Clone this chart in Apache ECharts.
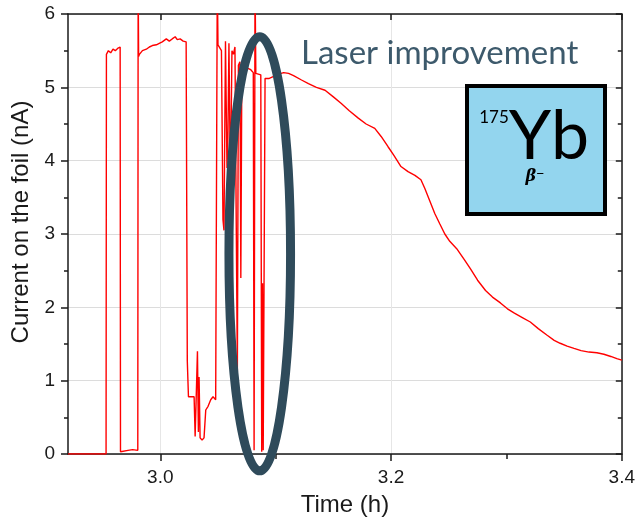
<!DOCTYPE html>
<html>
<head>
<meta charset="utf-8">
<script src="https://cdn.jsdelivr.net/npm/echarts@6/dist/echarts.min.js"></script>
<style>
  html,body{margin:0;padding:0;background:#fff;}
  #chart{width:638px;height:526px;}
</style>
</head>
<body>
<div id="chart"></div>
<script>
// === Datos ===
const timeH = [
  2.9200, 2.9530, 2.9533, 2.9550, 2.9570, 2.9590, 2.9610, 2.9630, 2.9652, 2.9655, 2.9670, 2.9720, 2.9760, 2.9805, 2.9808, 2.9812,
  2.9819, 2.9845, 2.9879, 2.9905, 2.9931, 2.9966, 2.9991, 3.0017, 3.0052, 3.0078, 3.0103, 3.0129, 3.0147, 3.0172, 3.0198, 3.0224, 3.0232,
  3.0234, 3.0244, 3.0293, 3.0302, 3.0315, 3.0322, 3.0330, 3.0336, 3.0345, 3.0362, 3.0379, 3.0394, 3.0414, 3.0437, 3.0457, 3.0480, 3.0491,
  3.0494, 3.0500, 3.0517, 3.0530, 3.0543, 3.0552, 3.0565, 3.0578, 3.0586, 3.0595, 3.0608, 3.0621, 3.0634, 3.0647, 3.0659, 3.0668, 3.0677,
  3.0690, 3.0698, 3.0707, 3.0733, 3.0759, 3.0784, 3.0806, 3.0813, 3.0821, 3.0828, 3.0845, 3.0871, 3.0879, 3.0886, 3.0892, 3.0908, 3.0922,
  3.0940, 3.0983, 3.1026, 3.1069, 3.1112, 3.1155, 3.1224, 3.1284, 3.1353, 3.1428, 3.1500, 3.1569, 3.1638, 3.1716, 3.1784, 3.1859, 3.1914,
  3.1974, 3.2026, 3.2086, 3.2147, 3.2207, 3.2259, 3.2293, 3.2336, 3.2379, 3.2422, 3.2466, 3.2509, 3.2569, 3.2635, 3.2690, 3.2750, 3.2819,
  3.2879, 3.2948, 3.3009, 3.3069, 3.3138, 3.3207, 3.3276, 3.3353, 3.3414, 3.3466, 3.3526, 3.3586, 3.3647, 3.3716, 3.3784, 3.3845, 3.3905,
  3.3957, 3.4000
];
const currentNA = [
  0.00, 0.00, 5.45, 5.50, 5.47, 5.52, 5.50, 5.53, 5.55, 0.03, 0.04, 0.05, 0.06, 0.05, 6.50, 5.42,
  5.45, 5.50, 5.52, 5.55, 5.57, 5.58, 5.60, 5.62, 5.66, 5.63, 5.66, 5.69, 5.65, 5.66, 5.63, 5.62, 5.60,
  1.27, 0.78, 0.78, 0.24, 0.25, 1.40, 0.30, 1.05, 0.22, 0.19, 0.22, 0.60, 0.65, 0.74, 0.78, 0.74, 0.75,
  6.50, 5.58, 5.60, 5.50, 3.20, 3.05, 5.63, 3.90, 4.30, 5.60, 3.60, 5.50, 5.45, 5.55, 3.00, 1.12, 5.30,
  5.35, 2.40, 5.30, 5.30, 5.26, 5.24, 5.20, 0.05, 6.50, 5.19, 5.18, 5.17, 0.03, 2.33, 0.05, 5.12, 5.12,
  5.12, 5.15, 5.18, 5.20, 5.19, 5.16, 5.10, 5.05, 5.00, 4.96, 4.87, 4.78, 4.68, 4.58, 4.50, 4.44, 4.33,
  4.19, 4.07, 3.92, 3.85, 3.80, 3.74, 3.62, 3.45, 3.28, 3.14, 3.00, 2.90, 2.80, 2.65, 2.52, 2.37, 2.23,
  2.14, 2.06, 1.98, 1.92, 1.86, 1.80, 1.71, 1.62, 1.55, 1.51, 1.47, 1.44, 1.41, 1.39, 1.38, 1.36, 1.33,
  1.30, 1.28
];
const xMajor = [3.0, 3.2, 3.4];
const xMinor = [3.1, 3.3];
// óvalo de la anotación, en unidades de datos: centro y semiejes
const ovalCenter = [3.0862, 2.73];
const ovalHalf = [0.0267, 2.96];

// === Paleta / fuentes ===
const red = '#ff0000', ink = '#1a1a1a', grid = '#dcdcdc', slate = '#2f4b5b';
const axisFont = '"Liberation Sans", Arial, sans-serif';
const noteFont = 'Lato, "Open Sans", sans-serif';

const X0 = 2.92, X1 = 3.4;
const baseX = {
  type: 'value', min: X0, max: X1, gridIndex: 0,
  axisLine: { show: false }, axisTick: { show: false }, axisLabel: { show: false }, splitLine: { show: false }
};

const option = {
  animation: false,
  grid: { left: 68, right: 12, top: 14, bottom: 72 },
  xAxis: [
    { ...baseX, position: 'bottom',
      name: 'Time (h)', nameLocation: 'middle', nameGap: 39,
      nameTextStyle: { fontFamily: axisFont, fontSize: 24, color: ink },
      axisLine: { show: true, onZero: false, lineStyle: { color: ink, width: 1.5 } },
      axisTick: { show: true, length: 7, customValues: xMajor, lineStyle: { color: ink, width: 1.5 } },
      axisLabel: { show: true, customValues: xMajor, margin: 14, fontFamily: axisFont, fontSize: 19, color: ink,
        formatter: v => v.toFixed(1) },
      splitLine: { show: true, lineStyle: { color: '#e6e6e6', width: 1 } } },
    { ...baseX, position: 'bottom',
      axisTick: { show: true, length: 5, customValues: xMinor, lineStyle: { color: ink, width: 1.5 } } },
    { ...baseX, position: 'top',
      axisLine: { show: true, onZero: false, lineStyle: { color: ink, width: 1.5 } },
      axisTick: { show: true, inside: true, length: 6, customValues: xMajor, lineStyle: { color: ink, width: 1.5 } } },
    { ...baseX, position: 'top',
      axisTick: { show: true, inside: true, length: 4, customValues: xMinor, lineStyle: { color: ink, width: 1.5 } } }
  ],
  yAxis: [
    { type: 'value', min: 0, max: 6, interval: 1, position: 'left',
      name: 'Current on the foil (nA)', nameLocation: 'middle', nameGap: 33,
      nameTextStyle: { fontFamily: axisFont, fontSize: 24, color: ink, padding: [0, 0, 0, 24] },
      axisLine: { show: true, onZero: false, lineStyle: { color: ink, width: 1.5 } },
      axisTick: { show: true, length: 7, lineStyle: { color: ink, width: 1.5 } },
      minorTick: { show: true, splitNumber: 2, length: 4, lineStyle: { color: ink, width: 1.5 } },
      axisLabel: { margin: 13, fontFamily: axisFont, fontSize: 19, color: ink },
      splitLine: { show: true, lineStyle: { color: grid, width: 1.2 } } },
    { type: 'value', min: 0, max: 6, interval: 1, position: 'right',
      axisLine: { show: true, onZero: false, lineStyle: { color: ink, width: 1.5 } },
      axisTick: { show: true, inside: true, length: 6, lineStyle: { color: ink, width: 1.5 } },
      minorTick: { show: true, splitNumber: 2, length: 4, lineStyle: { color: ink, width: 1.5 } },
      axisLabel: { show: false }, splitLine: { show: false } }
  ],
  series: [{
    type: 'line', xAxisIndex: 0, yAxisIndex: 0, showSymbol: false, clip: true,
    lineStyle: { color: red, width: 1.4 },
    data: timeH.map((t, i) => [t, currentNA[i]]),
    z: 3
  }]
};

const chart = echarts.init(document.getElementById('chart'), null, { renderer: 'canvas' });
chart.setOption(option);

// === Anotaciones (óvalo desde coordenadas de datos) ===
const toPx = p => chart.convertToPixel({ xAxisIndex: 0, yAxisIndex: 0 }, p);
const c = toPx(ovalCenter);
const e = toPx([ovalCenter[0] + ovalHalf[0], ovalCenter[1] + ovalHalf[1]]);
chart.setOption({
  graphic: [
    { type: 'ellipse', z: 100, shape: { cx: c[0], cy: c[1], rx: Math.abs(e[0] - c[0]), ry: Math.abs(c[1] - e[1]) },
      style: { fill: 'none', stroke: slate, lineWidth: 9 } },
    { type: 'text', z: 100, x: 301, y: 53,
      style: { text: 'Laser improvement', font: '33px ' + noteFont, fill: '#3d5a6c', textVerticalAlign: 'middle' } },
    { type: 'rect', z: 100, shape: { x: 467, y: 86, width: 138, height: 128 },
      style: { fill: '#93d5ee', stroke: '#000', lineWidth: 4 } },
    { type: 'text', z: 101, x: 549, y: 137,
      style: { text: 'Yb', font: '68px ' + noteFont, fill: '#000', textAlign: 'center', textVerticalAlign: 'middle' } },
    { type: 'text', z: 101, x: 494, y: 118,
      style: { text: '175', font: '17px ' + noteFont, fill: '#000', textAlign: 'center', textVerticalAlign: 'middle' } },
    { type: 'text', z: 101, x: 535, y: 177,
      style: { text: 'β⁻', font: 'italic bold 16px "DejaVu Serif", serif', fill: '#000', textAlign: 'center', textVerticalAlign: 'middle' } }
  ]
});
</script>
</body>
</html>
